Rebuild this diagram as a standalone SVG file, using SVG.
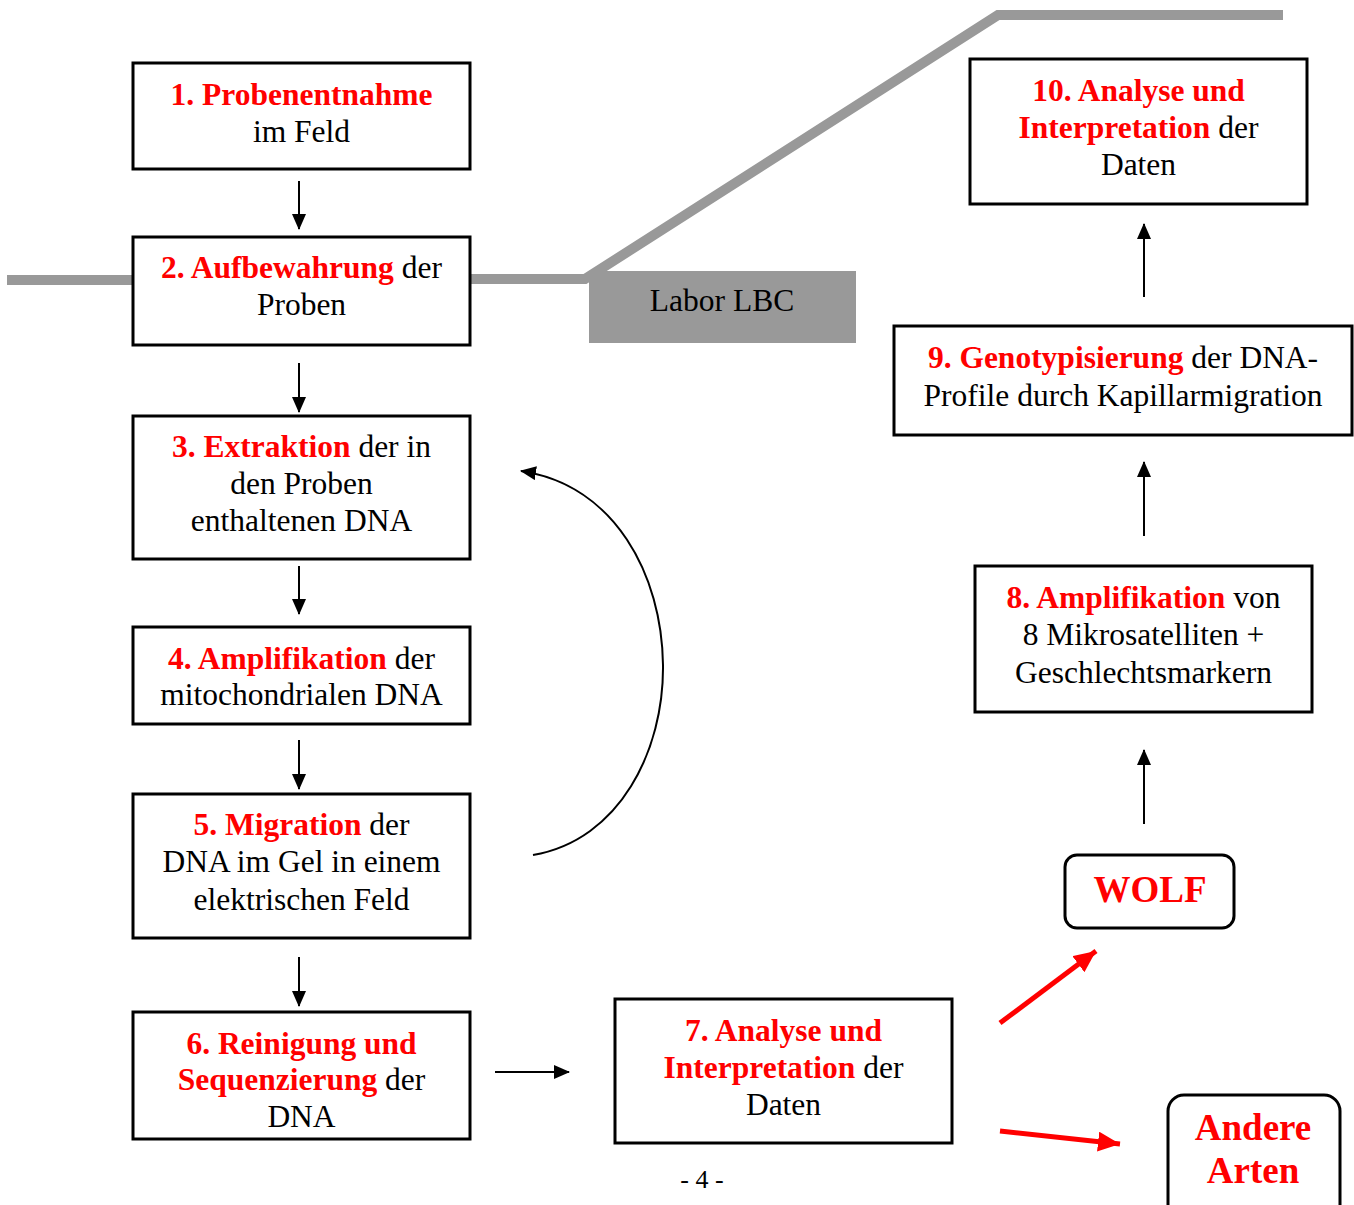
<svg xmlns="http://www.w3.org/2000/svg" width="1354" height="1205" viewBox="0 0 1354 1205">
<style>
.box{fill:#fff;stroke:#000;stroke-width:3}
.t{font-family:"Liberation Serif","Times New Roman",serif;font-size:31.5px;fill:#000;text-anchor:middle}
.r{fill:#f00;font-weight:bold}
.big{font-size:37px}
.ar{stroke:#000;stroke-width:2;fill:none}
.red{stroke:#f00;stroke-width:5;fill:none}
.gray{stroke:#999;stroke-width:10;fill:none}
</style>
<defs>
<marker id="ah" markerUnits="userSpaceOnUse" markerWidth="16" markerHeight="16" refX="15" refY="7" orient="auto"><path d="M0,0 L16,7 L0,14 Z" fill="#000"/></marker>
<marker id="rh" markerUnits="userSpaceOnUse" markerWidth="24" markerHeight="24" refX="22" refY="10" orient="auto"><path d="M0,0 L22,10 L0,20 Z" fill="#f00"/></marker>
</defs>
<g id="lab">
<path class="gray" d="M7,280 H133 M470,279 H585 L998,15 H1283"/>
<rect x="589" y="271" width="267" height="72" fill="#999"/>
<text class="t" x="722" y="311">Labor LBC</text>
</g>
<g id="connectors">
<line class="ar" x1="299" y1="181" x2="299" y2="229" marker-end="url(#ah)"/>
<line class="ar" x1="299" y1="363" x2="299" y2="412" marker-end="url(#ah)"/>
<line class="ar" x1="299" y1="566" x2="299" y2="614" marker-end="url(#ah)"/>
<line class="ar" x1="299" y1="740" x2="299" y2="789" marker-end="url(#ah)"/>
<line class="ar" x1="299" y1="957" x2="299" y2="1006" marker-end="url(#ah)"/>
<line class="ar" x1="495" y1="1072" x2="569" y2="1072" marker-end="url(#ah)"/>
<line class="ar" x1="1144" y1="297" x2="1144" y2="224" marker-end="url(#ah)"/>
<line class="ar" x1="1144" y1="536" x2="1144" y2="462" marker-end="url(#ah)"/>
<line class="ar" x1="1144" y1="824" x2="1144" y2="750" marker-end="url(#ah)"/>
<path class="ar" d="M533,855 C620,840 664,750 663,665 C662,575 615,485 521,471" marker-end="url(#ah)"/>
<line class="red" x1="1000" y1="1023" x2="1096" y2="951" marker-end="url(#rh)"/>
<line class="red" x1="1000" y1="1131" x2="1120" y2="1144" marker-end="url(#rh)"/>
</g>
<g id="n1"><rect class="box" x="133" y="63" width="337" height="106"/>
<text class="t" x="301.5" y="105"><tspan class="r">1. Probenentnahme</tspan></text>
<text class="t" x="301.5" y="142">im Feld</text></g>
<g id="n2"><rect class="box" x="133" y="237" width="337" height="108"/>
<text class="t" x="301.5" y="278"><tspan class="r">2. Aufbewahrung</tspan> der</text>
<text class="t" x="301.5" y="315">Proben</text></g>
<g id="n3"><rect class="box" x="133" y="416" width="337" height="143"/>
<text class="t" x="301.5" y="457"><tspan class="r">3. Extraktion</tspan> der in</text>
<text class="t" x="301.5" y="494">den Proben</text>
<text class="t" x="301.5" y="531">enthaltenen DNA</text></g>
<g id="n4"><rect class="box" x="133" y="627" width="337" height="97"/>
<text class="t" x="301.5" y="669"><tspan class="r">4. Amplifikation</tspan> der</text>
<text class="t" x="301.5" y="705">mitochondrialen DNA</text></g>
<g id="n5"><rect class="box" x="133" y="794" width="337" height="144"/>
<text class="t" x="301.5" y="835"><tspan class="r">5. Migration</tspan> der</text>
<text class="t" x="301.5" y="872">DNA im Gel in einem</text>
<text class="t" x="301.5" y="910">elektrischen Feld</text></g>
<g id="n6"><rect class="box" x="133" y="1012" width="337" height="127"/>
<text class="t" x="301.5" y="1054"><tspan class="r">6. Reinigung und</tspan></text>
<text class="t" x="301.5" y="1090"><tspan class="r">Sequenzierung</tspan> der</text>
<text class="t" x="301.5" y="1127">DNA</text></g>
<g id="n7"><rect class="box" x="615" y="999" width="337" height="144"/>
<text class="t" x="783.5" y="1041"><tspan class="r">7. Analyse und</tspan></text>
<text class="t" x="783.5" y="1078"><tspan class="r">Interpretation</tspan> der</text>
<text class="t" x="783.5" y="1115">Daten</text></g>
<g id="n8"><rect class="box" x="975" y="566" width="337" height="146"/>
<text class="t" x="1143.5" y="608"><tspan class="r">8. Amplifikation</tspan> von</text>
<text class="t" x="1143.5" y="645">8 Mikrosatelliten +</text>
<text class="t" x="1143.5" y="683">Geschlechtsmarkern</text></g>
<g id="n9"><rect class="box" x="894" y="326" width="458" height="109"/>
<text class="t" x="1123" y="368"><tspan class="r">9. Genotypisierung</tspan> der DNA-</text>
<text class="t" x="1123" y="406">Profile durch Kapillarmigration</text></g>
<g id="n10"><rect class="box" x="970" y="59" width="337" height="145"/>
<text class="t" x="1138.5" y="101"><tspan class="r">10. Analyse und</tspan></text>
<text class="t" x="1138.5" y="138"><tspan class="r">Interpretation</tspan> der</text>
<text class="t" x="1138.5" y="175">Daten</text></g>
<g id="wolf"><rect class="box" x="1065" y="855" width="169" height="73" rx="12"/>
<text class="t big r" x="1150" y="902">WOLF</text></g>
<g id="andere"><rect class="box" x="1168" y="1095" width="172" height="130" rx="16"/>
<text class="t big r" x="1253" y="1140">Andere</text>
<text class="t big r" x="1253" y="1183">Arten</text></g>
<text class="t" x="702" y="1188" style="font-size:26px">- 4 -</text>
</svg>
